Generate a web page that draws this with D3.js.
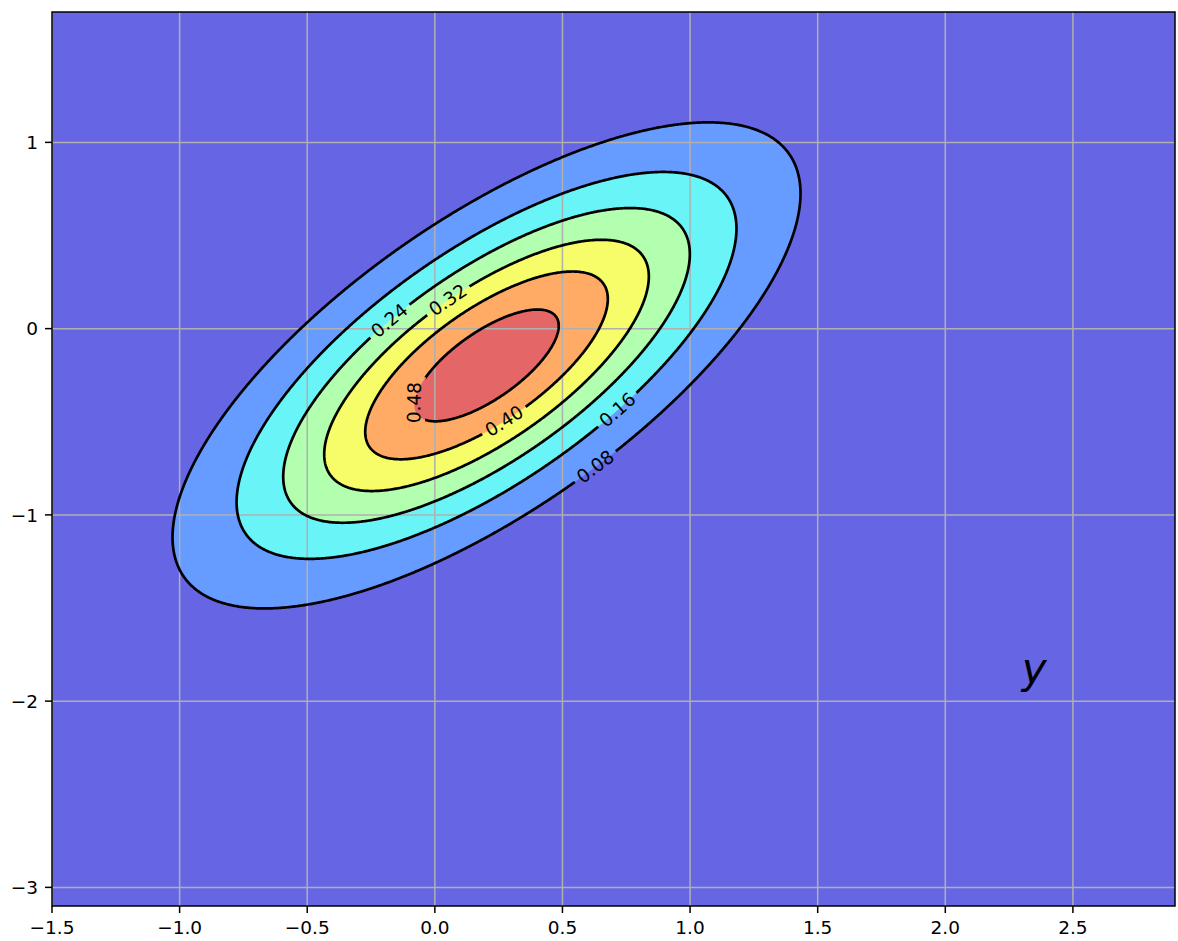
<!DOCTYPE html>
<html><head><meta charset="utf-8">
<script src="https://cdn.jsdelivr.net/npm/d3@7"></script>
<style>
body{margin:0;background:#fff}
svg{display:block}
text{font-family:"DejaVu Sans",sans-serif}
</style>
</head><body>
<svg id="c" width="1178" height="941"></svg>
<script>
// ---- data ----
const xDomain = [-1.5, 2.9];
const yDomain = [-3.1, 1.7];
const mean = [0.2, -0.2];
const cov = [[0.40, 0.30], [0.30, 0.45]];
const fillLevels = [0, 0.08, 0.16, 0.24, 0.32, 0.40, 0.48, 0.56];
const lineLevels = [0.08, 0.16, 0.24, 0.32, 0.40, 0.48];
const labelTexts = ["0.08", "0.16", "0.24", "0.32", "0.40", "0.48"];
const labelAnchors = [[0.631, -0.743], [0.717, -0.442], [-0.176, 0.041], [0.051, 0.154], [0.274, -0.501], [-0.086, -0.399]];
const xTicks = [-1.5, -1.0, -0.5, 0.0, 0.5, 1.0, 1.5, 2.0, 2.5];
const yTicks = [-3, -2, -1, 0, 1];
const annotation = {text: "y", x: 2.3, y: -1.9};

// ---- layout ----
const W = 1178, H = 941;
const M = {l: 52, r: 1175, t: 12, b: 906};
const FS = 18.5;
const svg = d3.select("#c");
const xs = d3.scaleLinear().domain(xDomain).range([M.l, M.r]);
const ys = d3.scaleLinear().domain(yDomain).range([M.b, M.t]);

// jet colormap (matplotlib segment data, 256-entry LUT), alpha 0.6 over white
const jetSeg = {
  r: [[0, 0], [0.35, 0], [0.66, 1], [0.89, 1], [1, 0.5]],
  g: [[0, 0], [0.125, 0], [0.375, 1], [0.64, 1], [0.91, 0], [1, 0]],
  b: [[0, 0.5], [0.11, 1], [0.34, 1], [0.65, 0], [1, 0]]
};
function segVal(s, t) {
  for (let i = 1; i < s.length; i++) {
    if (t <= s[i][0]) {
      const a = s[i - 1], b = s[i];
      return a[1] + (b[1] - a[1]) * (t - a[0]) / (b[0] - a[0]);
    }
  }
  return s[s.length - 1][1];
}
function jetAlpha(t, alpha) {
  let idx = Math.min(255, Math.max(0, Math.floor(t * 256)));
  const p = idx / 255;
  const c = ["r", "g", "b"].map(k => Math.round(255 * ((1 - alpha) + alpha * segVal(jetSeg[k], p))));
  return d3.rgb(c[0], c[1], c[2]).formatHex();
}
const vmin = fillLevels[0], vmax = fillLevels[fillLevels.length - 1];
const bandColors = d3.range(fillLevels.length - 1).map(i => {
  const mid = (fillLevels[i] + fillLevels[i + 1]) / 2;
  return jetAlpha((mid - vmin) / (vmax - vmin), 0.6);
});

// ---- density grid from the Gaussian ----
const step = 0.005;
const nx = Math.round((xDomain[1] - xDomain[0]) / step) + 1;
const ny = Math.round((yDomain[1] - yDomain[0]) / step) + 1;
const det = cov[0][0] * cov[1][1] - cov[0][1] * cov[1][0];
const inv = [[cov[1][1] / det, -cov[0][1] / det], [-cov[1][0] / det, cov[0][0] / det]];
const peak = 1 / (2 * Math.PI * Math.sqrt(det));
const values = new Float64Array(nx * ny);
for (let j = 0; j < ny; j++) {
  const dy = yDomain[0] + j * step - mean[1];
  for (let i = 0; i < nx; i++) {
    const dx = xDomain[0] + i * step - mean[0];
    const q = dx * (inv[0][0] * dx + inv[0][1] * dy) + dy * (inv[1][0] * dx + inv[1][1] * dy);
    values[j * nx + i] = peak * Math.exp(-0.5 * q);
  }
}
const gen = d3.contours().size([nx, ny]).smooth(true);
const gx = c => xs(xDomain[0] + c * step);
const gy = c => ys(yDomain[0] + c * step);
const proj = d3.geoTransform({point(px, py) { this.stream.point(gx(px), gy(py)); }});
const path = d3.geoPath(proj);

const defs = svg.append("defs");
defs.append("clipPath").attr("id", "plotclip").append("rect")
  .attr("x", M.l).attr("y", M.t).attr("width", M.r - M.l).attr("height", M.b - M.t);

const plot = svg.append("g").attr("clip-path", "url(#plotclip)");
// lowest band fills the whole axes
plot.append("rect").attr("x", M.l).attr("y", M.t).attr("width", M.r - M.l).attr("height", M.b - M.t)
  .attr("fill", bandColors[0]);
for (let i = 1; i < fillLevels.length - 1; i++) {
  const c = gen.contour(values, fillLevels[i]);
  plot.append("path").attr("d", path(c)).attr("fill", bandColors[i]).attr("stroke", "none");
}

// grid
const grid = plot.append("g").attr("stroke", "#b0b0b0").attr("stroke-width", 1.5);
xTicks.forEach(v => grid.append("line").attr("x1", xs(v)).attr("x2", xs(v)).attr("y1", M.t).attr("y2", M.b));
yTicks.forEach(v => grid.append("line").attr("y1", ys(v)).attr("y2", ys(v)).attr("x1", M.l).attr("x2", M.r));

// contour lines with inline labels
const labelLayer = svg.append("g").attr("clip-path", "url(#plotclip)");
lineLevels.forEach((lev, k) => {
  const c = gen.contour(values, lev);
  // pixel rings
  const rings = [];
  c.coordinates.forEach(poly => poly.forEach(r => rings.push(r.map(p => [gx(p[0]), gy(p[1])]))));
  const ax = xs(labelAnchors[k][0]), ay = ys(labelAnchors[k][1]);
  let best = null;
  rings.forEach((r, ri) => r.forEach((p, pi) => {
    const d = (p[0] - ax) ** 2 + (p[1] - ay) ** 2;
    if (!best || d < best.d) best = {d, ri, pi};
  }));
  const ring = rings[best.ri];
  const n = ring.length;
  const P0 = ring[best.pi];
  function walk(dir, dist) {
    let acc = 0, idx = best.pi, prev = ring[idx];
    for (let s = 0; s < n; s++) {
      idx = (idx + dir + n) % n;
      const p = ring[idx];
      acc += Math.hypot(p[0] - prev[0], p[1] - prev[1]);
      prev = p;
      if (acc >= dist) break;
    }
    return prev;
  }
  const A = walk(-1, 12), B = walk(1, 12);
  let ang = Math.atan2(B[1] - A[1], B[0] - A[0]) * 180 / Math.PI;
  if (ang > 90) ang -= 180;
  if (ang < -90) ang += 180;

  const t = labelLayer.append("text")
    .attr("transform", `translate(${P0[0]},${P0[1]}) rotate(${ang})`)
    .attr("text-anchor", "middle").attr("dy", "0.33em")
    .attr("font-size", FS).attr("fill", "#000").text(labelTexts[k]);
  const tw = t.node().getComputedTextLength();

  const mask = defs.append("mask").attr("id", "lm" + k).attr("maskUnits", "userSpaceOnUse")
    .attr("x", 0).attr("y", 0).attr("width", W).attr("height", H);
  mask.append("rect").attr("x", 0).attr("y", 0).attr("width", W).attr("height", H).attr("fill", "#fff");
  mask.append("rect").attr("x", -(tw / 2 + 5)).attr("y", -11).attr("width", tw + 10).attr("height", 22)
    .attr("transform", `translate(${P0[0]},${P0[1]}) rotate(${ang})`).attr("fill", "#000");

  plot.append("path").attr("d", path(c)).attr("fill", "none").attr("stroke", "#000")
    .attr("stroke-width", 2.7).attr("mask", `url(#lm${k})`);
});
labelLayer.raise();

// frame
svg.append("rect").attr("x", M.l).attr("y", M.t).attr("width", M.r - M.l).attr("height", M.b - M.t)
  .attr("fill", "none").attr("stroke", "#000").attr("stroke-width", 1.5);

// ticks
const fmtX = v => d3.format(".1f")(v).replace("-", "\u2212");
const fmtY = v => d3.format("d")(v).replace("-", "\u2212");
const tk = svg.append("g").attr("stroke", "#000").attr("stroke-width", 1.5);
xTicks.forEach(v => tk.append("line").attr("x1", xs(v)).attr("x2", xs(v)).attr("y1", M.b).attr("y2", M.b + 7));
yTicks.forEach(v => tk.append("line").attr("y1", ys(v)).attr("y2", ys(v)).attr("x1", M.l - 7).attr("x2", M.l));
const tl = svg.append("g").attr("font-size", FS).attr("fill", "#000");
xTicks.forEach(v => tl.append("text").attr("x", xs(v)).attr("y", M.b + 14).attr("dy", "0.76em")
  .attr("text-anchor", "middle").text(fmtX(v)));
yTicks.forEach(v => tl.append("text").attr("x", M.l - 14).attr("y", ys(v)).attr("dy", "0.36em")
  .attr("text-anchor", "end").text(fmtY(v)));

// annotation
svg.append("text").attr("x", xs(annotation.x)).attr("y", ys(annotation.y))
  .attr("font-size", 42).attr("font-style", "italic").attr("fill", "#000").text(annotation.text);
</script>
</body></html>
